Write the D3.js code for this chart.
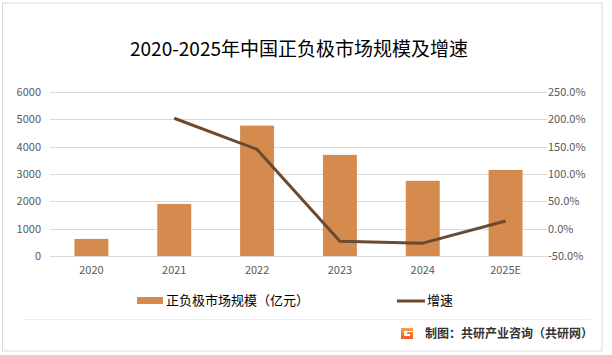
<!DOCTYPE html>
<html><head><meta charset="utf-8">
<script src="https://cdn.jsdelivr.net/npm/d3@7"></script>
<style>body{margin:0;background:#fff}svg{display:block}</style>
</head><body>
<svg id="c" width="612" height="355"></svg>
<script>
const categories = ["2020","2021","2022","2023","2024","2025E"];
const marketSize = [625, 1905, 4770, 3700, 2750, 3150];
const growth = [null, 202, 145, -23, -26.5, 14];
const leftTicks = [0,1000,2000,3000,4000,5000,6000];
const rightTicks = [-50,0,50,100,150,200,250];
const title = "2020-2025年中国正负极市场规模及增速";
const barName = "正负极市场规模（亿元）";
const lineName = "增速";
const source = "制图：共研产业咨询（共研网）";

const svg = d3.select("#c");
const font = "'Noto Sans CJK SC','Microsoft YaHei',sans-serif";
const barColor = "#D48B4D", lineColor = "#6B4A2F", axisText = "#595959";

// frame
svg.append("rect").attr("x",2.5).attr("y",3).attr("width",599.5).attr("height",348)
  .attr("fill","none").attr("stroke","#d9d9d9").attr("stroke-width",1);

const L=50, R=547, T=92, B=256;
const x = d3.scaleBand().domain(categories).range([L,R]).paddingInner(0.59).paddingOuter(0.295);
const y = d3.scaleLinear().domain([0,6000]).range([B,T]);
const y2 = d3.scaleLinear().domain([-50,250]).range([B,T]);

// gridlines
svg.append("g").selectAll("line").data(leftTicks).join("line")
  .attr("x1",L).attr("x2",R).attr("y1",d=>Math.round(y(d))+0.5).attr("y2",d=>Math.round(y(d))+0.5)
  .attr("stroke","#d9d9d9").attr("stroke-width",1);

// left axis
const ga = svg.append("g").attr("transform",`translate(${L-9},0)`)
  .call(d3.axisLeft(y).tickValues(leftTicks).tickSize(0).tickPadding(0).tickFormat(d3.format("d")));
ga.select(".domain").remove();
ga.selectAll("text").attr("fill",axisText).style("font-family",font).style("font-size","11px");

// right axis
const gr = svg.append("g").attr("transform",`translate(${R+1},0)`)
  .call(d3.axisRight(y2).tickValues(rightTicks).tickSize(0).tickPadding(0).tickFormat(d=>d.toFixed(1)+"%"));
gr.select(".domain").remove();
gr.selectAll("text").attr("fill",axisText).style("font-family",font).style("font-size","11px");

// x axis labels
const gx = svg.append("g").attr("transform",`translate(0,${B+10})`)
  .call(d3.axisBottom(x).tickSize(0).tickPadding(0));
gx.select(".domain").remove();
gx.selectAll("text").attr("fill",axisText).style("font-family",font).style("font-size","11px");

// bars
svg.append("g").selectAll("rect").data(marketSize).join("rect")
  .attr("x",(d,i)=>x(categories[i])).attr("width",x.bandwidth())
  .attr("y",d=>y(d)).attr("height",d=>y(0)-y(d)).attr("fill",barColor);

// line
const pts = growth.map((g,i)=>({c:categories[i],g})).filter(d=>d.g!==null);
svg.append("path").datum(pts)
  .attr("d",d3.line().x(d=>x(d.c)+x.bandwidth()/2).y(d=>y2(d.g)))
  .attr("fill","none").attr("stroke",lineColor).attr("stroke-width",3).attr("stroke-linejoin","round");

// title
svg.append("text").attr("x",299).attr("y",56).attr("text-anchor","middle")
  .style("font-family",font).style("font-size","19px").attr("fill","#000").text(title);

// legend
const lg = svg.append("g");
lg.append("rect").attr("x",137).attr("y",297).attr("width",26).attr("height",7).attr("fill",barColor);
lg.append("text").attr("x",166).attr("y",305).style("font-family",font).style("font-size","13px").attr("fill","#000").text(barName);
lg.append("line").attr("x1",397).attr("x2",425).attr("y1",301).attr("y2",301).attr("stroke",lineColor).attr("stroke-width",3);
lg.append("text").attr("x",427).attr("y",305).style("font-family",font).style("font-size","13px").attr("fill","#000").text(lineName);

// separator
svg.append("line").attr("x1",24).attr("x2",591).attr("y1",319.5).attr("y2",319.5).attr("stroke","#ececec").attr("stroke-width",1);

// footer logo
const defs = svg.append("defs");
const grd = defs.append("linearGradient").attr("id","lg1").attr("x1","0").attr("y1","0").attr("x2","0").attr("y2","1");
grd.append("stop").attr("offset","0").attr("stop-color","#F7A24A");
grd.append("stop").attr("offset","1").attr("stop-color","#EE5A2A");
svg.append("path").attr("d","M401,328 h12 v3 h-9 v5 h6 v-2 h-3 v-2 h6 v7 h-12 z").attr("fill","url(#lg1)");
svg.append("text").attr("x",425).attr("y",338).style("font-family",font).style("font-size","12px")
  .style("font-weight","bold").attr("fill","#333").text(source);
</script>
</body></html>
